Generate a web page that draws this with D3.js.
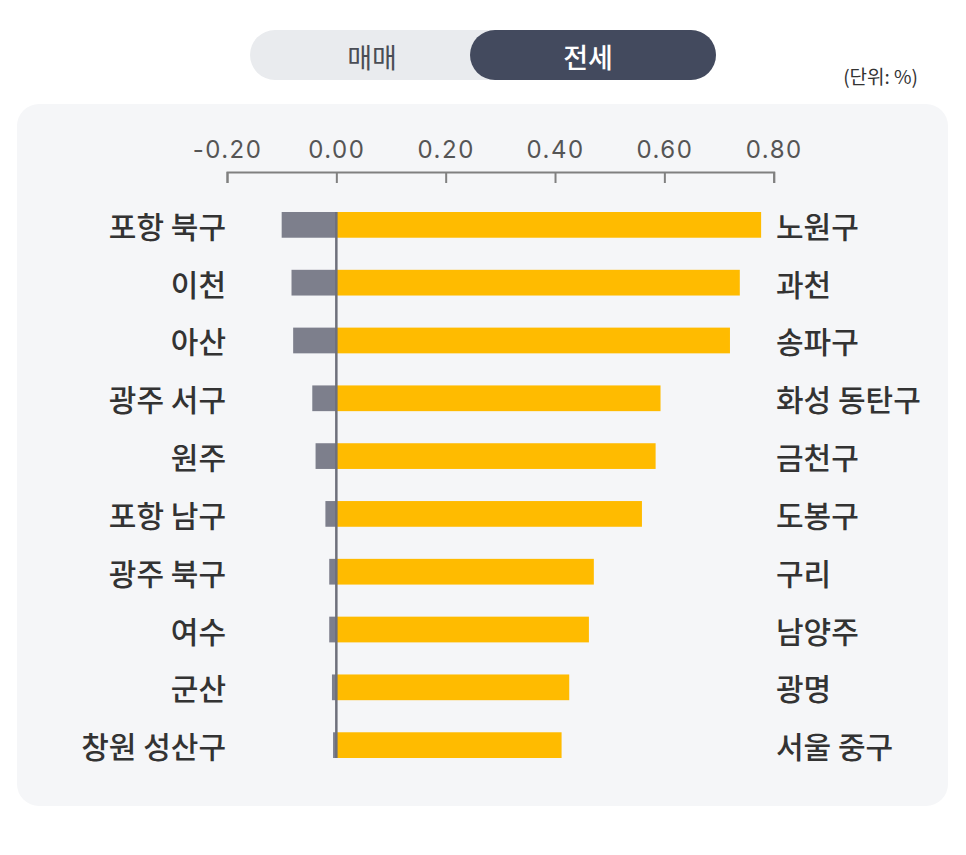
<!DOCTYPE html>
<html><head><meta charset="utf-8">
<script src="https://cdn.jsdelivr.net/npm/d3@7"></script>
<style>
html,body{margin:0;padding:0;background:#ffffff;}
svg{display:block;}
</style></head>
<body>
<svg id="chart" width="966" height="855"></svg>
<script>
const leftCategories = ["포항 북구","이천","아산","광주 서구","원주","포항 남구","광주 북구","여수","군산","창원 성산구"];
const leftValues = [-0.100,-0.082,-0.079,-0.044,-0.038,-0.020,-0.013,-0.013,-0.008,-0.006];
const rightCategories = ["노원구","과천","송파구","화성 동탄구","금천구","도봉구","구리","남양주","광명","서울 중구"];
const rightValues = [0.777,0.738,0.720,0.593,0.584,0.559,0.471,0.462,0.426,0.412];
const tickValues = [-0.2,0.0,0.2,0.4,0.6,0.8];
const toggleLabels = ["매매","전세"];
const unitLabel = "(단위: %)";

const svg = d3.select("#chart");
const FONT = "'Noto Sans CJK KR','Noto Sans',sans-serif";

// panel
svg.append("rect").attr("x",17).attr("y",104).attr("width",931).attr("height",702)
  .attr("rx",22).attr("fill","#f5f6f8");

// toggle
svg.append("rect").attr("x",250).attr("y",30).attr("width",466).attr("height",50)
  .attr("rx",25).attr("fill","#e9ebee");
svg.append("rect").attr("x",470).attr("y",30).attr("width",246).attr("height",50)
  .attr("rx",25).attr("fill","#434a5e");
svg.append("text").attr("x",372).attr("y",56).attr("text-anchor","middle").attr("dominant-baseline","central")
  .attr("font-family",FONT).attr("font-size",27).attr("font-weight",400).attr("fill","#4a4d55").text(toggleLabels[0]);
svg.append("text").attr("x",588).attr("y",56).attr("text-anchor","middle").attr("dominant-baseline","central")
  .attr("font-family",FONT).attr("font-size",27).attr("font-weight",500).attr("fill","#ffffff").text(toggleLabels[1]);
svg.append("text").attr("x",918).attr("y",84).attr("text-anchor","end")
  .attr("font-family",FONT).attr("font-size",19).attr("fill","#333").text(unitLabel);

const x = d3.scaleLinear().domain([-0.2,0.8]).range([227,773.7]);
const idx = d3.range(leftCategories.length);
const y = d3.scaleBand().domain(idx).range([212,758]).paddingInner(0.555).paddingOuter(0);

// axis
const axis = d3.axisTop(x).tickValues(tickValues).tickFormat(d3.format(".2f"))
  .tickSizeInner(-11).tickSizeOuter(-11).tickPadding(14);
const ag = svg.append("g").attr("transform","translate(0,172)").call(axis);
ag.select(".domain").attr("stroke","#808080").attr("stroke-width",2);
ag.selectAll(".tick line").attr("stroke","#808080").attr("stroke-width",2);
ag.selectAll(".tick text").attr("font-family","Inter,Roboto,sans-serif").attr("font-size",24)
  .attr("letter-spacing",1.5).attr("fill","#555").attr("dy",0);
ag.selectAll(".tick text").text(d => d3.format(".2f")(d).replace("−","-"));

// bars
svg.append("g").selectAll("rect").data(idx).join("rect")
  .attr("x", i => x(leftValues[i])).attr("width", i => x(0)-x(leftValues[i]))
  .attr("y", i => y(i)).attr("height", y.bandwidth()).attr("fill","#7d7f8c");
svg.append("g").selectAll("rect").data(idx).join("rect")
  .attr("x", x(0)).attr("width", i => x(rightValues[i])-x(0))
  .attr("y", i => y(i)).attr("height", y.bandwidth()).attr("fill","#ffbb00");

// zero line
svg.append("line").attr("x1",x(0)).attr("x2",x(0)).attr("y1",y(0)).attr("y2",y(idx.length-1)+y.bandwidth())
  .attr("stroke","#6e707b").attr("stroke-width",2.5);

// labels
svg.append("g").selectAll("text").data(idx).join("text")
  .attr("x",226).attr("y", i => y(i)+y.bandwidth()/2).attr("text-anchor","end").attr("dominant-baseline","central")
  .attr("font-family",FONT).attr("font-size",30).attr("font-weight",500).attr("fill","#333")
  .text(i => leftCategories[i]);
svg.append("g").selectAll("text").data(idx).join("text")
  .attr("x",776).attr("y", i => y(i)+y.bandwidth()/2).attr("text-anchor","start").attr("dominant-baseline","central")
  .attr("font-family",FONT).attr("font-size",30).attr("font-weight",500).attr("fill","#333")
  .text(i => rightCategories[i]);
</script>
</body></html>
